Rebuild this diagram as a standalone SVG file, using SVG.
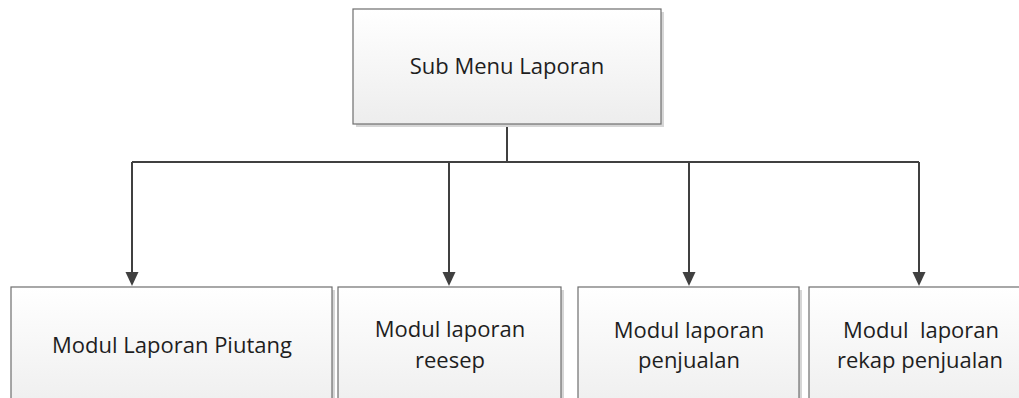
<svg xmlns="http://www.w3.org/2000/svg" width="1019" height="398" viewBox="0 0 1019 398">
  <style>
    .box { fill: url(#boxFill); stroke: #6e6e6e; stroke-width: 1.2; }
    .shadow { fill: #d6d6d6; }
    .label { font-family: "Open Sans", "Noto Sans", "Liberation Sans", sans-serif; font-size: 22px; fill: #1e1e1e; text-anchor: middle; }
    .wire { fill: none; stroke: #404040; stroke-width: 2; }
  </style>
  <defs>
    <linearGradient id="boxFill" x1="0" y1="0" x2="0" y2="1">
      <stop offset="0" stop-color="#ffffff"/>
      <stop offset="1" stop-color="#ededed"/>
    </linearGradient>
    <marker id="arrow" markerUnits="userSpaceOnUse" markerWidth="14" markerHeight="14" viewBox="0 0 14 14" refX="7" refY="14" orient="auto-start-reverse">
      <path d="M0,0 L14,0 L7,14 Z" fill="#404040" transform="rotate(0)"/>
    </marker>
  </defs>

  <rect width="1019" height="398" fill="#ffffff"/>

  <!-- connectors -->
  <g id="connectors">
    <path class="wire" d="M507,124 V162"/>
    <path class="wire" d="M132,162 H919"/>
    <path class="wire" d="M132,162 V272"/>
    <path class="wire" d="M449,162 V272"/>
    <path class="wire" d="M689,162 V272"/>
    <path class="wire" d="M919,162 V272"/>
    <path d="M125.5,272 L138.5,272 L132,286 Z" fill="#404040"/>
    <path d="M442.5,272 L455.5,272 L449,286 Z" fill="#404040"/>
    <path d="M682.5,272 L695.5,272 L689,286 Z" fill="#404040"/>
    <path d="M912.5,272 L925.5,272 L919,286 Z" fill="#404040"/>
  </g>

  <!-- root -->
  <g id="node-sub-menu-laporan">
    <rect class="shadow" x="356" y="12" width="308" height="115"/>
    <rect class="box" x="353" y="9" width="308" height="115"/>
    <text class="label" x="507" y="74">Sub Menu Laporan</text>
  </g>

  <!-- modules -->
  <g id="node-laporan-piutang">
    <rect class="shadow" x="14" y="290" width="321" height="130"/>
    <rect class="box" x="11" y="287" width="321" height="130"/>
    <text class="label" x="172" y="353">Modul Laporan Piutang</text>
  </g>

  <g id="node-laporan-resep">
    <rect class="shadow" x="341" y="290" width="223" height="130"/>
    <rect class="box" x="338" y="287" width="223" height="130"/>
    <text class="label" x="450" y="337">Modul laporan</text>
    <text class="label" x="450" y="368">reesep</text>
  </g>

  <g id="node-laporan-penjualan">
    <rect class="shadow" x="581" y="290" width="221" height="130"/>
    <rect class="box" x="578" y="287" width="221" height="130"/>
    <text class="label" x="689" y="338">Modul laporan</text>
    <text class="label" x="689" y="368">penjualan</text>
  </g>

  <g id="node-rekap-penjualan">
    <rect class="shadow" x="812" y="290" width="221" height="130"/>
    <rect class="box" x="809" y="287" width="221" height="130"/>
    <text class="label" x="921" y="338" xml:space="preserve">Modul  laporan</text>
    <text class="label" x="920" y="368">rekap penjualan</text>
  </g>
</svg>
